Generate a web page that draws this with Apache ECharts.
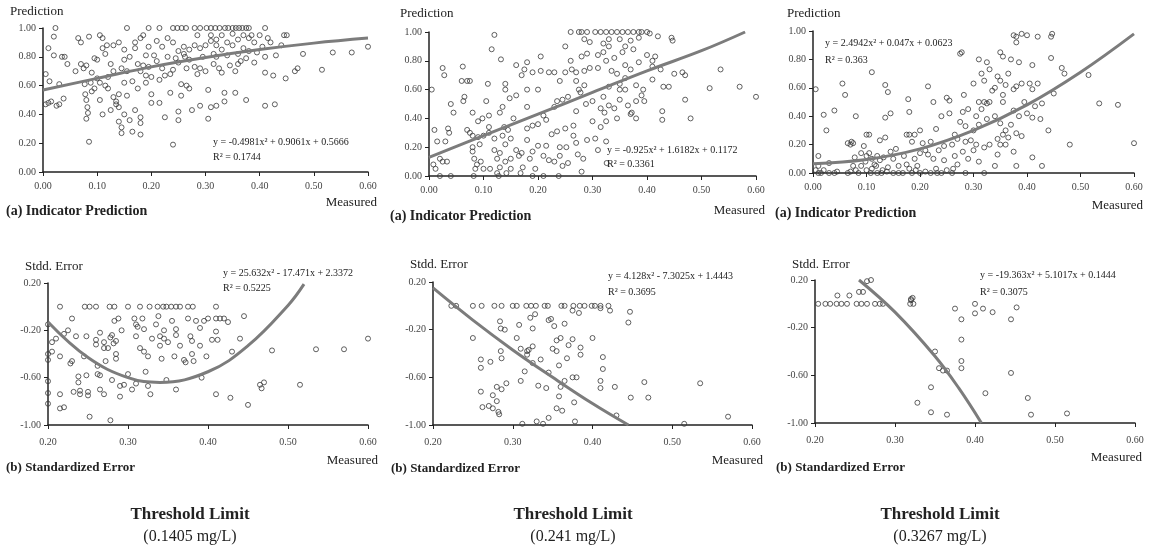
<!DOCTYPE html>
<html lang="en">
<head>
<meta charset="UTF-8">
<title>Threshold Limit</title>
<script src="https://cdn.jsdelivr.net/npm/echarts@6/dist/echarts.min.js"></script>
<style>
	html, body { margin: 0; padding: 0; background: #fff; }
	#chart { width: 1155px; height: 554px; }
</style>
</head>
<body>
<div id="chart"></div>
<script>
// 指标预测 (a) —— 三个阈值
const pred1 = [
	[0.005,0.68],[0.005,0.47],[0.01,0.86],[0.012,0.63],[0.015,0.49],[0.02,0.81],[0.025,0.46],[0.03,0.47],[0.035,0.80],[0.04,0.80],[0.038,0.51],[0.045,0.75],[0.02,0.94],[0.023,1.0],[0.03,0.61],[0.01,0.48],
	[0.06,0.70],[0.065,0.93],[0.07,0.90],[0.07,0.75],[0.075,0.72],[0.08,0.74],[0.078,0.54],[0.08,0.50],[0.082,0.45],[0.08,0.37],[0.083,0.41],[0.085,0.21],[0.085,0.94],[0.09,0.69],[0.09,0.56],[0.095,0.79],[0.1,0.78],[0.1,0.65],[0.105,0.62],[0.095,0.58],[0.088,0.62],[0.077,0.61],
	[0.105,0.95],[0.11,0.93],[0.11,0.86],[0.105,0.50],[0.11,0.40],[0.115,0.60],[0.12,0.58],[0.125,0.75],[0.12,0.66],[0.13,0.88],[0.13,0.70],[0.13,0.52],[0.135,0.49],[0.14,0.54],[0.14,0.45],[0.14,0.35],[0.145,0.31],[0.14,0.90],[0.145,0.72],[0.15,0.85],[0.15,0.78],[0.15,0.62],[0.15,0.40],[0.145,0.27],[0.155,1.0],[0.155,0.70],[0.155,0.53],[0.135,0.47],[0.125,0.43],[0.115,0.82],[0.118,0.88],
	[0.16,0.80],[0.16,0.36],[0.165,0.28],[0.165,0.63],[0.17,0.90],[0.17,0.43],[0.175,0.58],[0.175,0.75],[0.18,0.93],[0.18,0.70],[0.18,0.38],[0.18,0.34],[0.18,0.26],[0.185,0.95],[0.185,0.74],[0.19,0.81],[0.19,0.67],[0.195,1.0],[0.195,0.87],[0.195,0.73],[0.2,0.66],[0.2,0.54],[0.2,0.48],[0.19,0.62],[0.17,0.86],
	[0.205,0.81],[0.21,0.91],[0.21,0.77],[0.215,1.0],[0.215,0.64],[0.215,0.48],[0.22,0.87],[0.22,0.72],[0.225,0.38],[0.23,0.93],[0.23,0.80],[0.235,0.68],[0.235,0.55],[0.24,0.90],[0.24,0.71],[0.24,1.0],[0.24,0.19],[0.245,0.79],[0.25,0.84],[0.25,0.76],[0.25,0.42],[0.25,0.36],[0.255,0.61],[0.255,0.53],[0.248,1.0],[0.225,0.67],
	[0.256,1.0],[0.26,0.87],[0.26,0.82],[0.265,0.72],[0.265,0.60],[0.27,0.85],[0.27,0.78],[0.27,0.58],[0.275,0.43],[0.28,1.0],[0.28,0.88],[0.28,0.73],[0.285,0.68],[0.285,0.95],[0.29,1.0],[0.29,0.86],[0.29,0.72],[0.29,0.46],[0.295,0.80],[0.3,0.70],[0.3,0.88],[0.302,1.0],[0.305,0.37],[0.305,0.57],[0.262,0.80],[0.264,1.0],
	[0.31,1.0],[0.31,0.95],[0.31,0.91],[0.31,0.45],[0.315,0.82],[0.315,0.75],[0.318,1.0],[0.32,0.92],[0.32,0.88],[0.32,0.46],[0.325,0.72],[0.326,1.0],[0.33,0.95],[0.33,0.85],[0.33,0.69],[0.335,0.55],[0.335,0.49],[0.336,1.0],[0.34,0.90],[0.34,0.81],[0.342,1.0],[0.345,0.74],[0.35,0.88],[0.35,0.96],[0.35,1.0],[0.355,0.70],[0.355,0.55],[0.32,0.80],
	[0.356,1.0],[0.36,0.92],[0.36,0.82],[0.362,1.0],[0.365,0.77],[0.368,1.0],[0.37,0.95],[0.37,0.86],[0.375,1.0],[0.375,0.79],[0.375,0.50],[0.38,1.0],[0.38,0.93],[0.38,0.84],[0.385,0.95],[0.39,0.76],[0.39,0.90],[0.395,0.83],[0.4,0.95],[0.36,0.75],
	[0.405,0.87],[0.41,1.0],[0.41,0.80],[0.41,0.69],[0.41,0.46],[0.415,0.93],[0.42,0.90],[0.425,0.67],[0.428,0.47],[0.43,0.81],[0.44,0.88],[0.445,0.95],[0.448,0.65],[0.45,0.95],
	[0.465,0.70],[0.47,0.72],[0.48,0.82],[0.515,0.71],[0.535,0.83],[0.57,0.83],[0.6,0.87]
]
const pred2 = [
	[0.005,0.60],[0.01,0.32],[0.012,0.05],[0.015,0.24],[0.02,0.12],[0.025,0.10],[0.025,0.75],[0.028,0.70],[0.03,0.24],[0.033,0.10],[0.035,0.33],[0.037,0.30],[0.04,0.50],[0.045,0.44],[0.02,0.0],[0.04,0.0],[0.008,0.08],
	[0.06,0.66],[0.062,0.76],[0.065,0.55],[0.063,0.52],[0.07,0.66],[0.075,0.66],[0.07,0.32],[0.075,0.30],[0.08,0.44],[0.08,0.28],[0.08,0.20],[0.083,0.12],[0.085,0.05],[0.082,0.0],[0.09,0.38],[0.09,0.27],[0.093,0.22],[0.095,0.10],[0.098,0.40],[0.1,0.28],[0.1,0.05],[0.08,0.17],[0.088,0.08],
	[0.105,0.52],[0.108,0.64],[0.11,0.42],[0.11,0.34],[0.11,0.30],[0.112,0.05],[0.115,0.88],[0.12,0.98],[0.12,0.26],[0.12,0.18],[0.125,0.12],[0.125,0.02],[0.13,0.44],[0.13,0.16],[0.13,0.06],[0.132,0.81],[0.135,0.48],[0.135,0.28],[0.14,0.64],[0.14,0.60],[0.14,0.22],[0.14,0.10],[0.142,0.02],[0.145,0.32],[0.148,0.54],[0.15,0.26],[0.15,0.12],[0.15,0.05],[0.138,0.34],[0.128,0.0],
	[0.155,0.40],[0.16,0.77],[0.16,0.56],[0.16,0.18],[0.165,0.14],[0.17,0.70],[0.17,0.16],[0.172,0.06],[0.175,0.74],[0.18,0.79],[0.18,0.60],[0.18,0.48],[0.18,0.33],[0.18,0.25],[0.185,0.12],[0.19,0.72],[0.19,0.35],[0.19,0.17],[0.195,0.05],[0.2,0.60],[0.2,0.36],[0.2,0.21],[0.168,0.02],[0.19,0.0],
	[0.205,0.83],[0.205,0.73],[0.21,0.42],[0.21,0.14],[0.215,0.39],[0.215,0.21],[0.22,0.72],[0.22,0.11],[0.225,0.29],[0.23,0.72],[0.23,0.48],[0.23,0.10],[0.235,0.52],[0.235,0.31],[0.24,0.66],[0.24,0.20],[0.24,0.14],[0.245,0.53],[0.245,0.07],[0.25,0.90],[0.25,0.72],[0.25,0.33],[0.252,0.20],[0.255,0.55],[0.255,0.09],[0.21,0.0],[0.238,0.0],
	[0.26,1.0],[0.26,0.80],[0.262,0.74],[0.265,0.35],[0.265,0.28],[0.27,0.66],[0.27,0.45],[0.27,0.23],[0.273,0.15],[0.275,1.0],[0.275,0.60],[0.278,0.58],[0.28,0.83],[0.28,0.03],[0.283,0.12],[0.285,0.95],[0.285,0.73],[0.285,0.63],[0.288,0.50],[0.29,0.85],[0.29,0.25],[0.295,0.93],[0.295,0.75],[0.3,0.38],[0.3,0.52],[0.28,1.0],[0.29,1.0],[0.27,0.72],
	[0.305,1.0],[0.305,0.26],[0.31,0.84],[0.31,0.75],[0.31,0.18],[0.315,1.0],[0.315,0.47],[0.315,0.34],[0.32,0.92],[0.32,0.86],[0.32,0.55],[0.322,0.44],[0.325,1.0],[0.325,0.80],[0.325,0.38],[0.325,0.24],[0.33,0.95],[0.33,0.90],[0.33,0.62],[0.335,1.0],[0.335,0.73],[0.34,0.82],[0.34,0.47],[0.345,1.0],[0.345,0.71],[0.345,0.40],[0.35,0.95],[0.35,0.64],[0.35,0.60],[0.35,0.53],[0.33,0.49],[0.326,0.09],
	[0.355,1.0],[0.355,0.86],[0.36,0.90],[0.36,0.77],[0.36,0.68],[0.365,1.0],[0.365,0.49],[0.37,0.94],[0.37,0.74],[0.37,0.43],[0.375,1.0],[0.375,0.88],[0.38,0.52],[0.38,0.63],[0.38,0.40],[0.385,1.0],[0.385,0.96],[0.385,0.79],[0.39,1.0],[0.39,0.56],[0.393,0.60],[0.395,0.52],[0.4,1.0],[0.4,0.84],[0.36,0.60],[0.372,0.44],
	[0.405,0.99],[0.41,0.80],[0.41,0.67],[0.415,0.83],[0.42,0.97],[0.425,0.74],[0.428,0.45],[0.428,0.39],[0.43,0.62],[0.44,0.62],[0.445,0.96],[0.447,0.94],[0.45,0.71],[0.41,0.76],
	[0.465,0.72],[0.47,0.53],[0.47,0.70],[0.48,0.40],[0.515,0.61],[0.535,0.74],[0.57,0.62],[0.6,0.55]
]
const pred3 = [
	[0.005,0.59],[0.01,0.12],[0.01,0.05],[0.005,0.02],[0.015,0.0],[0.02,0.41],[0.025,0.30],[0.03,0.07],[0.03,0.0],[0.04,0.44],[0.04,0.0],[0.02,0.02],[0.01,0.0],[0.045,0.01],
	[0.055,0.63],[0.06,0.55],[0.065,0.21],[0.07,0.20],[0.072,0.22],[0.075,0.21],[0.065,0.0],[0.07,0.01],[0.078,0.11],[0.08,0.40],[0.08,0.02],[0.085,0.0],[0.09,0.14],[0.09,0.05],[0.095,0.19],[0.1,0.27],[0.1,0.12],[0.1,0.02],[0.098,0.08],[0.075,0.05],
	[0.105,0.27],[0.105,0.14],[0.11,0.71],[0.11,0.10],[0.11,0.03],[0.115,0.06],[0.12,0.12],[0.12,0.0],[0.125,0.23],[0.125,0.09],[0.13,0.02],[0.132,0.11],[0.135,0.62],[0.135,0.25],[0.135,0.39],[0.14,0.57],[0.14,0.04],[0.145,0.42],[0.145,0.15],[0.15,0.10],[0.15,0.0],[0.118,0.05],[0.108,0.0],[0.128,0.0],[0.138,0.01],
	[0.155,0.17],[0.16,0.05],[0.16,0.0],[0.17,0.12],[0.175,0.27],[0.175,0.06],[0.178,0.52],[0.18,0.43],[0.18,0.27],[0.18,0.03],[0.185,0.22],[0.185,0.0],[0.19,0.27],[0.19,0.10],[0.195,0.05],[0.2,0.30],[0.2,0.14],[0.2,0.0],[0.168,0.0],[0.192,0.02],
	[0.205,0.21],[0.21,0.01],[0.215,0.61],[0.215,0.13],[0.22,0.22],[0.22,0.0],[0.225,0.10],[0.225,0.50],[0.23,0.31],[0.23,0.03],[0.235,0.16],[0.24,0.40],[0.24,0.0],[0.245,0.19],[0.245,0.09],[0.25,0.53],[0.25,0.02],[0.21,0.16],[0.232,0.0],
	[0.255,0.51],[0.255,0.42],[0.26,0.20],[0.26,0.0],[0.265,0.27],[0.265,0.12],[0.27,0.24],[0.27,0.06],[0.275,0.84],[0.275,0.36],[0.28,0.43],[0.28,0.15],[0.282,0.55],[0.285,0.22],[0.285,0.33],[0.29,0.10],[0.29,0.45],[0.295,0.23],[0.3,0.63],[0.3,0.30],[0.3,0.16],[0.262,0.03],[0.278,0.85],[0.285,0.0],
	[0.305,0.20],[0.31,0.80],[0.31,0.50],[0.31,0.34],[0.31,0.08],[0.315,0.70],[0.315,0.45],[0.32,0.65],[0.32,0.50],[0.32,0.18],[0.32,0.0],[0.325,0.78],[0.325,0.49],[0.325,0.38],[0.33,0.73],[0.33,0.20],[0.335,0.58],[0.34,0.60],[0.34,0.40],[0.34,0.05],[0.345,0.68],[0.345,0.24],[0.345,0.13],[0.35,0.85],[0.35,0.65],[0.35,0.35],[0.35,0.20],[0.305,0.40],[0.33,0.50],
	[0.355,0.82],[0.355,0.55],[0.355,0.50],[0.355,0.27],[0.36,0.62],[0.36,0.30],[0.365,0.70],[0.365,0.25],[0.37,0.80],[0.37,0.34],[0.375,0.97],[0.375,0.59],[0.375,0.44],[0.375,0.15],[0.38,0.96],[0.38,0.92],[0.38,0.61],[0.38,0.28],[0.38,0.05],[0.385,0.78],[0.385,0.40],[0.39,0.98],[0.39,0.63],[0.39,0.26],[0.395,0.50],[0.4,0.97],[0.4,0.42],[0.36,0.20],
	[0.405,0.63],[0.41,0.76],[0.41,0.59],[0.41,0.39],[0.41,0.11],[0.415,0.47],[0.42,0.96],[0.42,0.63],[0.425,0.38],[0.428,0.49],[0.428,0.05],[0.44,0.30],[0.445,0.96],[0.445,0.81],[0.447,0.98],[0.45,0.56],
	[0.465,0.74],[0.47,0.70],[0.48,0.20],[0.515,0.69],[0.535,0.49],[0.57,0.48],[0.6,0.21]
]
// 标准化误差 (b)
const err1 = [
	[0.215,0.0],[0.246,0.0],[0.252,0.0],[0.26,0.0],[0.277,0.0],[0.283,0.0],[0.3,0.0],[0.315,0.0],[0.327,0.0],[0.337,0.0],[0.344,0.0],[0.348,0.0],[0.354,0.0],[0.36,0.0],[0.365,0.0],[0.375,0.0],[0.381,0.0],[0.41,0.0],
	[0.2,-0.15],[0.2,-0.40],[0.2,-0.45],[0.2,-0.63],[0.2,-0.73],[0.2,-0.82],[0.205,-0.38],[0.205,-0.30],[0.21,-0.27],[0.215,-0.42],[0.215,-0.74],[0.215,-0.86],[0.22,-0.85],[0.22,-0.23],[0.225,-0.20],[0.228,-0.48],[0.23,-0.10],[0.23,-0.46],[0.232,-0.72],[0.235,-0.25],[0.238,-0.59],[0.238,-0.64],[0.24,-0.71],[0.24,-0.74],[0.245,-0.42],[0.248,-0.58],[0.248,-0.25],[0.25,-0.75],[0.25,-0.72],[0.252,-0.93],
	[0.26,-0.28],[0.26,-0.32],[0.262,-0.50],[0.262,-0.57],[0.265,-0.22],[0.265,-0.58],[0.265,-0.70],[0.27,-0.30],[0.27,-0.35],[0.27,-0.74],[0.272,-0.46],[0.275,-0.35],[0.278,-0.26],[0.278,-0.96],[0.28,-0.62],[0.28,-0.24],[0.282,-0.31],[0.283,-0.12],[0.285,-0.40],[0.285,-0.44],[0.285,-0.29],[0.288,-0.10],[0.29,-0.67],[0.29,-0.76],[0.292,-0.20],[0.295,-0.66],[0.3,-0.57],
	[0.305,-0.70],[0.308,-0.10],[0.31,-0.15],[0.31,-0.25],[0.31,-0.65],[0.312,-0.17],[0.315,-0.35],[0.318,-0.10],[0.32,-0.19],[0.32,-0.38],[0.322,-0.55],[0.325,-0.42],[0.325,-0.67],[0.328,-0.74],[0.33,-0.27],[0.335,-0.15],[0.338,-0.08],[0.34,-0.25],[0.34,-0.33],[0.342,-0.44],[0.345,-0.20],[0.345,-0.27],[0.348,-0.62],[0.35,-0.30],
	[0.355,-0.12],[0.358,-0.42],[0.36,-0.19],[0.36,-0.24],[0.36,-0.70],[0.365,-0.33],[0.37,-0.45],[0.372,-0.47],[0.375,-0.10],[0.378,-0.25],[0.38,-0.40],[0.38,-0.29],[0.382,-0.46],[0.385,-0.12],[0.39,-0.18],[0.39,-0.33],[0.392,-0.60],[0.395,-0.12],[0.398,-0.42],[0.4,-0.10],
	[0.405,-0.28],[0.41,-0.10],[0.41,-0.21],[0.41,-0.74],[0.412,-0.28],[0.415,-0.10],[0.42,-0.10],[0.425,-0.13],[0.428,-0.77],[0.43,-0.38],[0.44,-0.27],[0.445,-0.08],[0.45,-0.83],
	[0.465,-0.66],[0.467,-0.69],[0.47,-0.64],[0.48,-0.37],[0.515,-0.66],[0.535,-0.36],[0.57,-0.36],[0.6,-0.27]
]
const err2 = [
	[0.223,0.0],[0.229,0.0],[0.25,0.0],[0.261,0.0],[0.277,0.0],[0.286,0.0],[0.3,0.0],[0.305,0.0],[0.317,0.0],[0.323,0.0],[0.329,0.0],[0.34,0.0],[0.344,0.0],[0.361,0.0],[0.365,0.0],[0.376,0.0],[0.384,0.0],[0.39,0.0],[0.399,0.0],[0.403,0.0],[0.41,0.0],[0.42,0.0],
	[0.25,-0.27],[0.26,-0.45],[0.26,-0.52],[0.26,-0.72],[0.262,-0.85],[0.27,-0.84],[0.272,-0.47],[0.275,-0.75],[0.275,-0.86],[0.28,-0.80],[0.28,-0.68],[0.282,-0.89],[0.283,-0.91],[0.284,-0.13],[0.285,-0.19],[0.285,-0.38],[0.286,-0.70],[0.286,-0.44],[0.29,-0.20],[0.292,-0.65],
	[0.305,-0.27],[0.308,-0.16],[0.31,-0.63],[0.31,-0.36],[0.312,-0.99],[0.315,-0.55],[0.318,-0.38],[0.318,-0.41],[0.32,-0.37],[0.322,-0.10],[0.325,-0.19],[0.325,-0.34],[0.325,-0.48],[0.328,-0.07],[0.33,-0.97],[0.332,-0.67],[0.335,-0.45],[0.338,-0.99],[0.342,-0.69],[0.345,-0.12],[0.345,-0.56],[0.345,-0.94],[0.348,-0.11],[0.35,-0.36],
	[0.352,-0.17],[0.355,-0.29],[0.355,-0.38],[0.355,-0.86],[0.358,-0.50],[0.358,-0.76],[0.36,-0.27],[0.36,-0.68],[0.362,-0.88],[0.365,-0.15],[0.365,-0.63],[0.368,-0.44],[0.37,-0.33],[0.375,-0.04],[0.375,-0.28],[0.375,-0.60],[0.377,-0.81],[0.378,-0.97],[0.38,-0.60],[0.383,-0.06],[0.385,-0.35],[0.385,-0.41],
	[0.4,-0.27],[0.41,-0.02],[0.41,-0.63],[0.41,-0.69],[0.413,-0.43],[0.413,-0.53],[0.422,-0.04],[0.428,-0.68],[0.43,-0.92],[0.445,-0.14],[0.447,-0.05],[0.448,-0.77],
	[0.465,-0.64],[0.47,-0.77],[0.515,-0.99],[0.535,-0.65],[0.57,-0.93]
]
const err3 = [
	[0.204,0.0],[0.213,0.0],[0.219,0.0],[0.227,0.0],[0.233,0.0],[0.24,0.0],[0.252,0.0],[0.258,0.0],[0.265,0.0],[0.275,0.0],[0.281,0.0],[0.285,0.0],[0.319,0.0],[0.323,0.0],
	[0.228,0.07],[0.243,0.07],[0.255,0.10],[0.26,0.10],[0.265,0.19],[0.27,0.20],[0.32,0.04],[0.32,0.03],[0.322,0.05],
	[0.375,-0.04],[0.383,-0.13],[0.4,0.0],[0.4,-0.08],[0.41,-0.04],[0.422,-0.07],[0.445,-0.13],[0.452,-0.03],[0.383,-0.30],[0.35,-0.40],[0.383,-0.48],[0.383,-0.54],[0.355,-0.54],[0.36,-0.56],[0.365,-0.56],[0.445,-0.58],[0.345,-0.70],[0.413,-0.75],[0.466,-0.79],[0.328,-0.83],[0.345,-0.91],[0.365,-0.93],[0.47,-0.93],[0.515,-0.92]
]
// 趋势线 (读图取点)
const fitPred1 = [[0,0.57],[0.1,0.65],[0.2,0.73],[0.3,0.795],[0.4,0.85],[0.5,0.895],[0.6,0.93]]
const fitPred2 = [[0,0.13],[0.1,0.28],[0.2,0.43],[0.3,0.58],[0.4,0.73],[0.5,0.87],[0.58,1.0]]
const fitPred3 = [[0,0.065],[0.1,0.095],[0.2,0.17],[0.3,0.30],[0.4,0.48],[0.5,0.71],[0.6,0.98]]
const fitErr1 = [[0.2,-0.13],[0.25,-0.43],[0.3,-0.60],[0.34,-0.64],[0.4,-0.55],[0.45,-0.33],[0.5,0.01],[0.52,0.19]]
const fitErr2 = [[0.2,0.15],[0.25,-0.12],[0.3,-0.37],[0.35,-0.60],[0.4,-0.82],[0.445,-1.0]]
const fitErr3 = [[0.255,0.20],[0.3,-0.07],[0.35,-0.44],[0.38,-0.71],[0.408,-1.0]]

const predEquations = ['y = -0.4981x² + 0.9061x + 0.5666', 'y = -0.925x² + 1.6182x + 0.1172', 'y = 2.4942x² + 0.047x + 0.0623']
const predR2 = ['R² = 0.1744', 'R² = 0.3361', 'R² = 0.363']
const errEquations = ['y = 25.632x² - 17.471x + 2.3372', 'y = 4.128x² - 7.3025x + 1.4443', 'y = -19.363x² + 5.1017x + 0.1444']
const errR2 = ['R² = 0.5225', 'R² = 0.3695', 'R² = 0.3075']
const thresholds = ['0.1405', '0.241', '0.3267']

const serif = "'Liberation Serif', 'Times New Roman', serif"

const grids = [
	{ left: 43, top: 28, width: 325, height: 144 },
	{ left: 429, top: 32, width: 327, height: 144 },
	{ left: 813, top: 31, width: 321, height: 142 },
	{ left: 48, top: 283, width: 320, height: 142 },
	{ left: 433, top: 282, width: 319, height: 143 },
	{ left: 815, top: 280, width: 320, height: 143 }
]

function axisBase(i, margin) {
	return {
		gridIndex: i,
		type: 'value',
		axisLine: { show: true, onZero: false, lineStyle: { color: '#222', width: 1.5 } },
		axisTick: { show: true, length: 4, lineStyle: { color: '#222' } },
		splitLine: { show: false },
		axisLabel: { fontFamily: serif, fontSize: 10, color: '#444', margin: margin, formatter: v => v.toFixed(2) }
	}
}

const xAxes = grids.map((g, i) => Object.assign(axisBase(i, i < 3 ? 9 : 12), i < 3 ? { min: 0, max: 0.6, interval: 0.1 } : { min: 0.2, max: 0.6, interval: 0.1 }))
const yAxes = grids.map((g, i) => Object.assign(axisBase(i, 7), i < 3 ? { min: 0, max: 1, interval: 0.2 } : { min: -1, max: 0.2, interval: 0.4 }))

const scatterSets = [pred1, pred2, pred3, err1, err2, err3]
const fitSets = [fitPred1, fitPred2, fitPred3, fitErr1, fitErr2, fitErr3]

const series = []
scatterSets.forEach((d, i) => {
	series.push({
		type: 'scatter', xAxisIndex: i, yAxisIndex: i, data: d,
		symbol: 'circle', symbolSize: 5, z: 2,
		itemStyle: { color: 'rgba(255,255,255,0)', borderColor: '#3a3a3a', borderWidth: 1 }
	})
})
fitSets.forEach((d, i) => {
	series.push({
		type: 'line', xAxisIndex: i, yAxisIndex: i, data: d,
		smooth: 0.4, showSymbol: false, z: 3,
		lineStyle: { color: '#7c7c7c', width: 3 }
	})
})

// 文本
function txt(text, x, y, size, bold, align) {
	return {
		type: 'text', z: 10,
		style: { text: text, x: x, y: y, fill: '#222', align: align || 'left', verticalAlign: 'middle',
			font: (bold ? 'bold ' : '') + size + 'px ' + serif }
	}
}

const graphics = []
const predTitlePos = [[10, 12], [400, 14], [787, 14]]
const predMeasPos = [[377, 203], [765, 211], [1143, 206]]
const predTagPos = [[6, 211], [390, 216], [775, 213]]
const predEqPos = [[213, 142, 157], [607, 150, 164], [825, 43, 60]]
const errTitlePos = [[25, 267], [410, 265], [792, 265]]
const errMeasPos = [[378, 461], [763, 461], [1142, 458]]
const errTagPos = [[6, 468], [391, 469], [776, 468]]
const errEqPos = [[223, 273, 288], [608, 276, 292], [980, 275, 292]]
const footX = [190, 573, 940]

for (let i = 0; i < 3; i++) {
	graphics.push(txt('Prediction', predTitlePos[i][0], predTitlePos[i][1], 13))
	graphics.push(txt('Measured', predMeasPos[i][0], predMeasPos[i][1], 13, false, 'right'))
	graphics.push(txt('(a) Indicator Prediction', predTagPos[i][0], predTagPos[i][1], 14, true))
	graphics.push(txt(predEquations[i], predEqPos[i][0], predEqPos[i][1], 10))
	graphics.push(txt(predR2[i], predEqPos[i][0], predEqPos[i][2], 10))
	graphics.push(txt('Stdd. Error', errTitlePos[i][0], errTitlePos[i][1], 13))
	graphics.push(txt('Measured', errMeasPos[i][0], errMeasPos[i][1], 13, false, 'right'))
	graphics.push(txt('(b) Standardized Error', errTagPos[i][0], errTagPos[i][1], 13, true))
	graphics.push(txt(errEquations[i], errEqPos[i][0], errEqPos[i][1], 10))
	graphics.push(txt(errR2[i], errEqPos[i][0], errEqPos[i][2], 10))
	graphics.push(txt('Threshold Limit', footX[i], 515, 17, true, 'center'))
	graphics.push(txt('(' + thresholds[i] + ' mg/L)', footX[i], 537, 16, false, 'center'))
}

const chart = echarts.init(document.getElementById('chart'))
chart.setOption({
	backgroundColor: '#fff',
	animation: false,
	grid: grids,
	xAxis: xAxes,
	yAxis: yAxes,
	series: series,
	graphic: graphics
})
</script>
</body>
</html>
